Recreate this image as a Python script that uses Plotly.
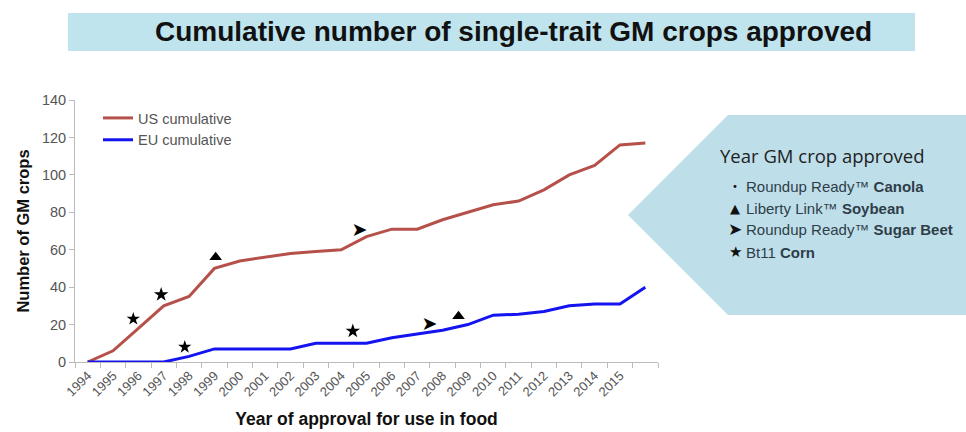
import plotly.graph_objects as go

# ---------------- data ----------------
years = list(range(1994, 2017))
tick_years = list(range(1994, 2016))
tick_labels = [str(y) for y in tick_years]

us_cumulative = [0, 6, 18, 30, 35, 50, 54, 56, 58, 59, 60, 67, 71, 71, 76, 80, 84, 86, 92, 100, 105, 116, 117]
eu_cumulative = [0, 0, 0, 0, 3, 7, 7, 7, 7, 10, 10, 10, 13, 15, 17, 20, 25, 25.5, 27, 30, 31, 31, 40]

canola_x = [1995.8, 1997.83]
canola_y = [23, 8]
soybean_x = [1999.05, 2008.63]
soybean_y = [56, 24.5]
sugarbeet_x = [2004.72, 2007.48]
sugarbeet_y = [70, 19.5]
corn_x = [1996.9, 2004.46]
corn_y = [36, 16.5]

title_text = "Cumulative number of single-trait GM crops approved"
box_title = "Year GM crop approved"
box_items = [
    ("•", "Roundup Ready™ ", "Canola"),
    ("▲", "Liberty Link™ ", "Soybean"),
    ("➤", "Roundup Ready™ ", "Sugar Beet"),
    ("★", "Bt11 ", "Corn"),
]

# ---------------- geometry helpers ----------------
W, H = 966, 432
ML, MR, MT, MB = 75, 308, 100, 70
PW, PH = W - ML - MR, H - MT - MB


def px(x):
    return (x - ML) / PW


def py(y):
    return (H - MB - y) / PH


RED = "#B5514A"
BLUE = "#1414F0"

fig = go.Figure()
fig.add_trace(go.Scatter(x=years, y=us_cumulative, mode="lines", name="US cumulative",
                         line=dict(color=RED, width=3)))
fig.add_trace(go.Scatter(x=years, y=eu_cumulative, mode="lines", name="EU cumulative",
                         line=dict(color=BLUE, width=3)))

fig.add_trace(go.Scatter(x=canola_x, y=canola_y, mode="markers", showlegend=False,
                         marker=dict(symbol="star", size=10, color="black")))
fig.add_trace(go.Scatter(x=soybean_x, y=soybean_y, mode="markers", showlegend=False,
                         marker=dict(symbol="triangle-up", size=11, color="black")))
fig.add_trace(go.Scatter(x=sugarbeet_x, y=sugarbeet_y, mode="text", showlegend=False,
                         text=["➤"] * len(sugarbeet_x), textposition="middle center",
                         textfont=dict(family="DejaVu Sans", size=19, color="black")))
fig.add_trace(go.Scatter(x=corn_x, y=corn_y, mode="markers", showlegend=False,
                         marker=dict(symbol="star", size=11, color="black")))

shapes = [
    # title bar
    dict(type="rect", xref="paper", yref="paper", x0=px(68), x1=px(915), y0=py(51), y1=py(13),
         fillcolor="#BFE4EE", line=dict(width=0), layer="below"),
    # arrow box on the right
    dict(type="path", xref="paper", yref="paper",
         path=f"M {px(628)} {py(215)} L {px(728)} {py(115)} L {px(966)} {py(115)} "
              f"L {px(966)} {py(315)} L {px(728)} {py(315)} Z",
         fillcolor="#BEDFEA", line=dict(width=0), layer="below"),
]

annotations = [
    dict(text=f"<b>{title_text}</b>", xref="paper", yref="paper", x=px(513), y=py(31),
         showarrow=False, font=dict(family="Liberation Sans, Arial", size=28, color="#111111"),
         xanchor="center", yanchor="middle"),
    dict(text=box_title, xref="paper", yref="paper", x=px(718), y=py(155),
         showarrow=False, font=dict(family="Open Sans", size=18.5, color="#222222"),
         xanchor="left", yanchor="middle"),
]
item_y = [186, 208, 229, 252]
sym_size = [10, 13, 17, 15]
for (sym, reg, bold), yy, ss in zip(box_items, item_y, sym_size):
    annotations.append(dict(text=sym, xref="paper", yref="paper", x=px(735), y=py(yy),
                            showarrow=False, font=dict(family="DejaVu Sans", size=ss, color="#111111"),
                            xanchor="center", yanchor="middle"))
    annotations.append(dict(text=f"{reg}<b>{bold}</b>", xref="paper", yref="paper", x=px(744), y=py(yy),
                            showarrow=False, font=dict(family="Liberation Sans, Arial", size=15, color="#2f3d48"),
                            xanchor="left", yanchor="middle"))

fig.update_layout(
    width=W, height=H,
    margin=dict(l=ML, r=MR, t=MT, b=MB),
    paper_bgcolor="white", plot_bgcolor="white",
    shapes=shapes, annotations=annotations,
    font=dict(family="Liberation Sans, Arial", color="#444444"),
    legend=dict(x=px(98), y=py(102), xanchor="left", yanchor="top",
                bgcolor="rgba(0,0,0,0)", font=dict(size=14.5, color="#555555"),
                itemwidth=30, tracegroupgap=4),
    xaxis=dict(range=[1993.5, 2016.5], tickmode="array", tickvals=tick_years, ticktext=tick_labels,
               tickangle=-45, ticks="", showgrid=False, zeroline=False, automargin=False,
               showline=True, linecolor="#BBBBBB", linewidth=1,
               tickfont=dict(size=13, color="#555555"),
               minor=dict(tickmode="array", tickvals=[y + 0.5 for y in range(1993, 2017)],
                          ticks="outside", ticklen=5, tickcolor="#BBBBBB", showgrid=False),
               title=dict(text="<b>Year of approval for use in food</b>", standoff=14,
                          font=dict(size=17.5, color="#111111"))),
    yaxis=dict(range=[0, 140], tickmode="array", tickvals=list(range(0, 141, 20)),
               ticks="outside", ticklen=5, tickcolor="#BBBBBB", showgrid=False, zeroline=False,
               automargin=False,
               showline=True, linecolor="#BBBBBB", linewidth=1,
               tickfont=dict(size=14.5, color="#555555"),
               title=dict(text="<b>Number of GM crops</b>", standoff=8,
                          font=dict(size=16.5, color="#111111"))),
)

fig.write_html("out.html")
